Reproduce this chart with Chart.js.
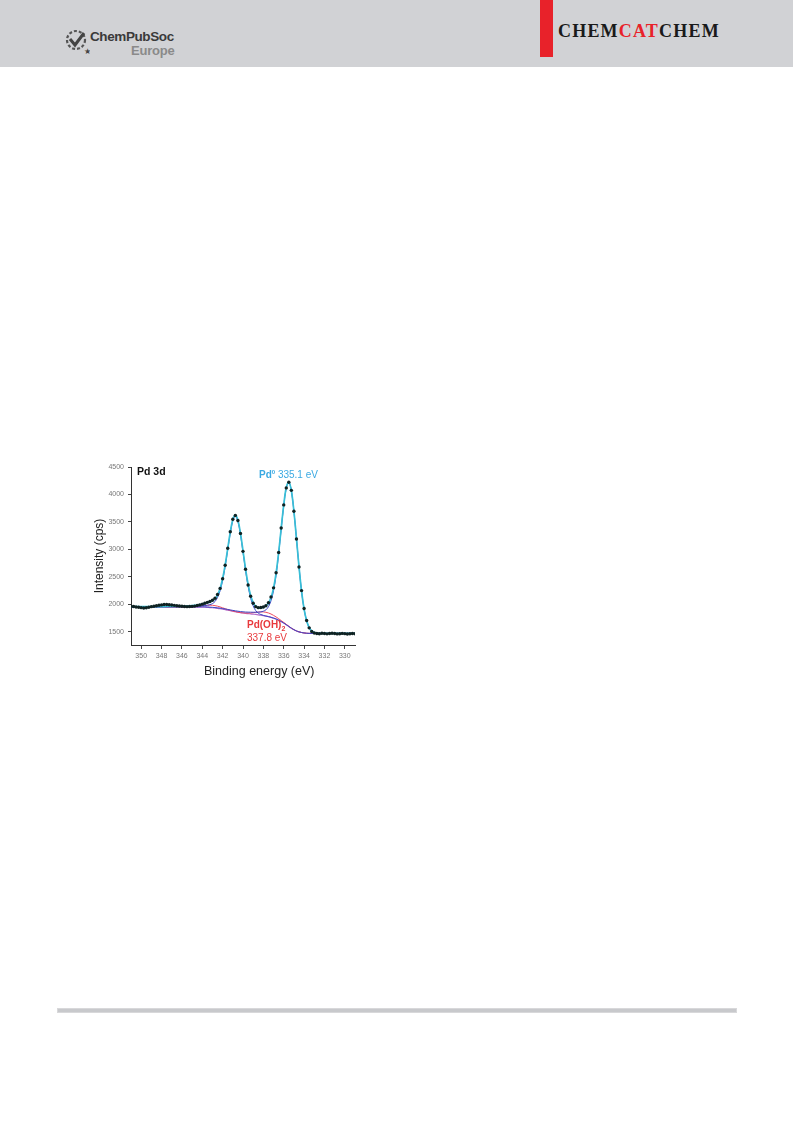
<!DOCTYPE html>
<html><head><meta charset="utf-8">
<script src="https://cdn.jsdelivr.net/npm/chart.js@4.4.0/dist/chart.umd.min.js"></script>
<style>
html,body{margin:0;padding:0;background:#fff;width:793px;height:1121px;overflow:hidden;font-family:"Liberation Sans",Arial,sans-serif}
#header{position:absolute;left:0;top:0;width:793px;height:67px;background:#d1d2d5}
#redbar{position:absolute;left:540px;top:0;width:13px;height:57px;background:#e8222a}
#journal{position:absolute;left:558px;top:21px;font-family:"Liberation Serif","Times New Roman",serif;font-weight:bold;font-size:18px;line-height:20px;color:#1a1a1a;letter-spacing:1.2px;white-space:nowrap}
#journal span{color:#e8222a}
#cps1{position:absolute;left:90px;top:30px;font-family:"Liberation Sans",Arial,sans-serif;font-weight:bold;font-size:13.5px;line-height:13px;color:#3a3a3a;letter-spacing:-0.4px}
#cps2{position:absolute;left:131px;top:44px;font-family:"Liberation Sans",Arial,sans-serif;font-weight:bold;font-size:13px;line-height:13px;color:#8a8a8a;letter-spacing:-0.2px}
#logo{position:absolute;left:62px;top:27px;width:28px;height:28px}
#footer{position:absolute;left:57px;top:1008px;width:680px;height:5px;background:#c8c9cc;border:0.5px solid #d8d8da;box-sizing:border-box}
#box{position:absolute;left:91px;top:455px;width:274px;height:226px}
.lab{position:absolute;white-space:nowrap;font-family:"Liberation Sans",Arial,sans-serif;font-size:10px;line-height:12px}
</style></head><body>
<div id="header"></div>
<div id="redbar"></div>
<div id="journal">CHEM<span>CAT</span>CHEM</div>
<svg id="logo" viewBox="0 0 28 28">
  <circle cx="14" cy="13" r="9" fill="none" stroke="#555" stroke-width="2.2" stroke-dasharray="3 2"/>
  <path d="M8 12 L13 18 L22 6" fill="none" stroke="#444" stroke-width="3"/>
  <text x="22" y="27" font-size="8" fill="#444">★</text>
</svg>
<div id="cps1">ChemPubSoc</div>
<div id="cps2">Europe</div>
<div id="footer"></div>

<div id="box"><canvas id="c"></canvas></div>
<div class="lab" style="left:137px;top:465px;font-weight:bold;color:#111;font-size:10.5px;">Pd 3d</div>
<div class="lab" style="left:259px;top:466px;color:#3aa9e2;"><b>Pd</b><sup style="font-size:6px;font-weight:bold;">0</sup> 335.1 eV</div>
<div class="lab" style="left:247px;top:619px;color:#e8393c;font-weight:bold;">Pd(OH)<sub style="font-size:7px;">2</sub></div>
<div class="lab" style="left:247px;top:632px;color:#e8393c;">337.8 eV</div>
<div class="lab" style="left:204px;top:664px;color:#222;font-size:12.5px;line-height:15px;">Binding energy (eV)</div>

<script>
const energy = [351,350.75,350.5,350.25,350,349.75,349.5,349.25,349,348.75,348.5,348.25,348,347.75,347.5,347.25,347,346.75,346.5,346.25,346,345.75,345.5,345.25,345,344.75,344.5,344.25,344,
343.75,343.5,343.25,343,342.75,342.5,342.25,342,341.75,341.5,341.25,341,340.75,340.5,340.25,340,339.75,339.5,339.25,339,338.75,338.5,338.25,338,337.75,337.5,337.25,337,336.75,336.5,336.25,336,335.75,335.5,335.25,335,334.75,334.5,334.25,334,333.75,333.5,
333.25,333,332.75,332.5,332.25,332,331.75,331.5,331.25,331,330.75,330.5,330.25,330,329.75,329.5,329.25,329];

const measured = [1966,1960,1952,1947,1940,1934,1938,1948,1958,1966,1974,1983,1990,1996,1998,1994,1988,1982,1975,1969,1964,1960,1958,1960,1963,1968,1978,1990,2004,
2020,2036,2052,2075,2110,2178,2290,2465,2712,3020,3322,3550,3618,3525,3290,2965,2640,2352,2148,2020,1958,1940,1942,1952,1975,2030,2135,2300,2575,2945,3390,3810,4120,4222,4075,3695,3190,2680,2250,1925,1705,1572,
1505,1478,1468,1466,1474,1468,1463,1470,1475,1468,1462,1466,1471,1467,1460,1465,1470,1466];

const envelope = [1957,1957,1957,1957,1957,1958,1958,1958,1958,1959,1959,1959,1960,1960,1961,1962,1962,1962,1963,1964,1965,1967,1968,1971,1975,1980,1987,1996,2006,
2018,2029,2044,2066,2102,2173,2288,2470,2718,3016,3314,3543,3624,3530,3295,2975,2647,2367,2161,2033,1964,1937,1934,1946,1971,2024,2125,2296,2569,2941,3383,3805,4126,4225,4071,3694,3200,2686,2240,1914,1701,1578,
1516,1488,1476,1472,1470,1470,1470,1470,1470,1470,1470,1470,1470,1470,1470,1470,1470,1470];

const pd0_3d52 = [1953,1953,1953,1953,1953,1953,1953,1953,1953,1953,1953,1953,1954,1954,1954,1954,1954,1954,1954,1954,1954,1955,1955,1955,1955,1955,1956,1956,1956,
1955,1952,1949,1946,1941,1937,1931,1924,1915,1907,1898,1890,1882,1875,1869,1864,1860,1858,1857,1856,1856,1858,1862,1875,1900,1957,2065,2247,2531,2914,3366,3793,4120,4222,4070,3694,3200,2686,2240,1914,1701,1578,
1516,1488,1476,1472,1470,1470,1470,1470,1470,1470,1470,1470,1470,1470,1470,1470,1470,1470];

const pd0_3d32 = [1954,1954,1954,1954,1954,1955,1955,1955,1955,1956,1956,1956,1956,1956,1957,1958,1958,1958,1959,1960,1961,1962,1963,1964,1966,1968,1970,1973,1976,
1979,1983,1994,2013,2051,2125,2246,2435,2690,2993,3294,3524,3606,3512,3273,2950,2617,2329,2113,1971,1886,1840,1815,1799,1787,1776,1764,1750,1733,1712,1688,1660,1629,1597,1566,1539,1516,1499,1487,1479,1474,1471,
1470,1470,1470,1470,1470,1470,1470,1470,1470,1470,1470,1470,1470,1470,1470,1470,1470,1470];

const pdOH2 = [1950,1950,1950,1950,1950,1950,1950,1950,1950,1950,1950,1950,1950,1950,1950,1950,1950,1950,1950,1950,1950,1950,1950,1952,1954,1957,1961,1967,1974,
1980,1984,1985,1983,1976,1967,1953,1937,1921,1906,1892,1879,1868,1857,1850,1845,1842,1842,1843,1848,1854,1859,1863,1862,1856,1843,1824,1799,1771,1739,1705,1671,1635,1600,1567,1539,1516,1499,1487,1479,1474,1471,
1470,1470,1470,1470,1470,1470,1470,1470,1470,1470,1470,1470,1470,1470,1470,1470,1470,1470];

const background = [1950,1950,1950,1950,1950,1950,1950,1950,1950,1950,1950,1950,1950,1950,1950,1950,1950,1950,1950,1950,1950,1950,1950,1950,1950,1950,1950,1950,1950,
1948,1945,1942,1938,1933,1928,1921,1913,1904,1895,1885,1875,1866,1857,1849,1842,1836,1831,1826,1821,1816,1810,1803,1795,1786,1776,1764,1750,1733,1712,1688,1660,1629,1597,1566,1539,1516,1499,1487,1479,1474,1471,
1470,1470,1470,1470,1470,1470,1470,1470,1470,1470,1470,1470,1470,1470,1470,1470,1470,1470];

const xTickValues = [350,348,346,344,342,340,338,336,334,332,330];
const yTickValues = [1500,2000,2500,3000,3500,4000,4500];

const pts = arr => arr.map((v,i)=>({x:energy[i], y:v}));
const FONT = '"Liberation Sans", Arial, sans-serif';

function lineDs(label, arr, color, width){
  return {label, data: pts(arr), borderColor: color, borderWidth: width, pointRadius: 0, tension: 0.35, fill: false};
}

new Chart(document.getElementById('c'), {
  type: 'line',
  data: {
    datasets: [
      {label:'Measured', data: pts(measured), showLine: false, pointRadius:1.7, pointBackgroundColor:'#0f2222', pointBorderColor:'#0f2222', pointBorderWidth:0},
      lineDs('Envelope', envelope, '#38bfd6', 1.7),
      lineDs('Pd0 3d5/2', pd0_3d52, '#3b47c6', 1),
      lineDs('Pd0 3d3/2', pd0_3d32, '#3b47c6', 1),
      lineDs('Pd(OH)2', pdOH2, '#ee4a5e', 1),
      lineDs('Background', background, '#b36cc9', 1.2)
    ]
  },
  options: {
    responsive: true, maintainAspectRatio: false, animation: false,
    layout: {padding: {top: 12, right: 10, left: 0, bottom: 0}},
    plugins: {legend: {display: false}, tooltip: {enabled: false}},
    scales: {
      x: {
        type: 'linear', reverse: true, min: 329, max: 351,
        afterBuildTicks: s => { s.ticks = xTickValues.map(v => ({value: v})); },
        afterFit: s => { s.height = 36; },
        grid: {drawOnChartArea: false, drawTicks: true, tickLength: 4, color: '#444', tickColor: '#444'},
        border: {display: true, color: '#333', width: 1},
        ticks: {font: {size: 7, family: FONT}, color: '#777', padding: 3, maxRotation: 0, autoSkip: false, callback: v => String(v)},
        title: {display: false}
      },
      y: {
        min: 1260, max: 4500,
        afterBuildTicks: s => { s.ticks = yTickValues.map(v => ({value: v})); },
        afterFit: s => { s.width = 40; },
        grid: {drawOnChartArea: false, drawTicks: true, tickLength: 3, color: '#444', tickColor: '#444'},
        border: {display: true, color: '#333', width: 1},
        ticks: {font: {size: 7, family: FONT}, color: '#777', padding: 4, callback: v => String(v)},
        title: {display: true, text: 'Intensity (cps)', font: {size: 12, family: FONT}, color: '#222', padding: {top: 1, bottom: 0}}
      }
    }
  }
});
</script>
</body></html>
